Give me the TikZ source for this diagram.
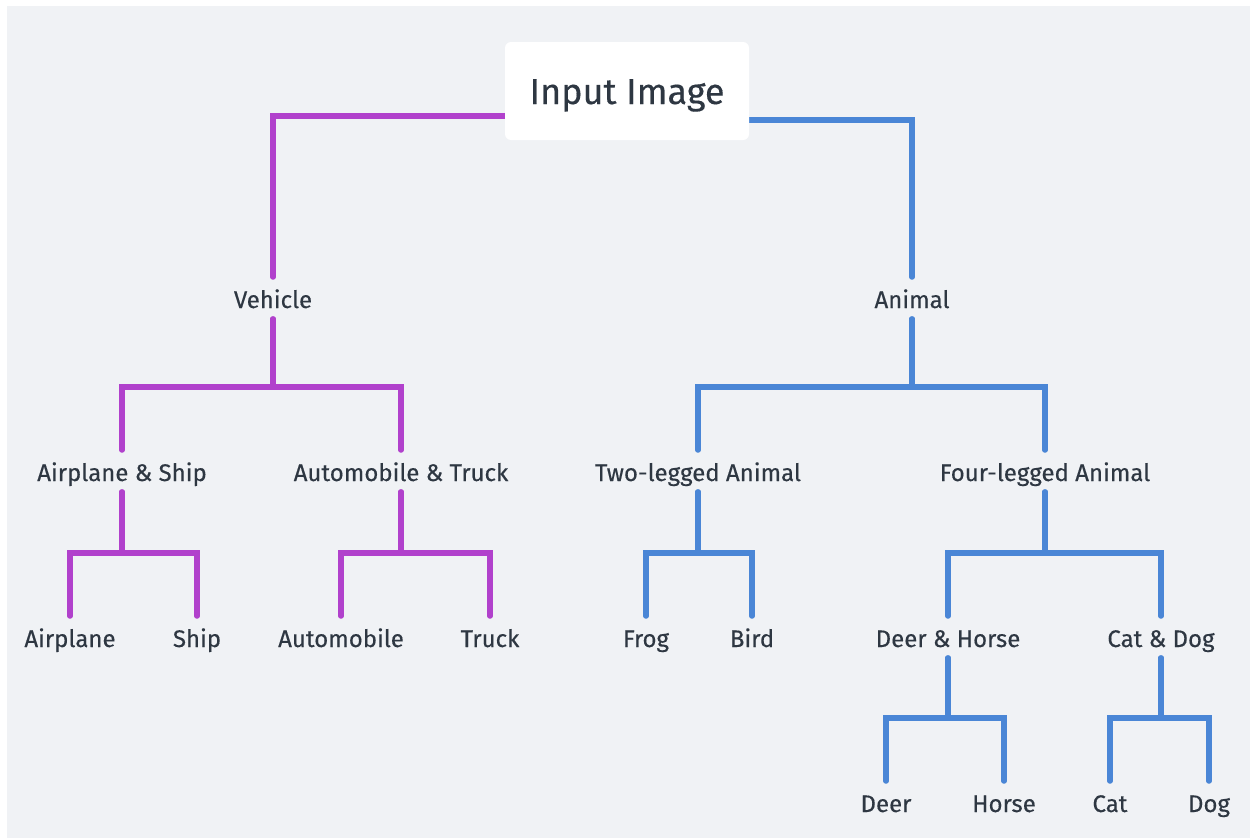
\documentclass[tikz,border=0pt]{standalone}
\usepackage{fontspec}
\setmainfont{Fira Sans}[FakeBold=0.35,UprightFont=*,BoldFont=*]
\definecolor{bgc}{HTML}{F0F2F5}
\definecolor{txt}{HTML}{2E3742}
\definecolor{purp}{HTML}{B141CC}
\definecolor{blu}{HTML}{4A86D6}
\pgfdeclarelayer{bg}
\pgfdeclarelayer{lines}
\pgfsetlayers{bg,lines,main}
\tikzset{
  lbl/.style={inner sep=0pt, outer sep=0pt, text height=31pt, text depth=11pt, text=txt, font=\fontsize{24}{28}\selectfont\bfseries},
  root/.style={fill=white, rounded corners=6pt, minimum width=244pt, minimum height=98pt, inner sep=0pt, text height=26pt, text depth=0pt, text=txt, font=\fontsize{36}{40}\selectfont\bfseries},
  vlink/.style={draw=purp, line width=5.5pt, line cap=round, line join=miter},
  alink/.style={draw=blu, line width=5.5pt, line cap=round, line join=miter}
}
\begin{document}
\begin{tikzpicture}[x=1pt,y=-1pt]
\begin{pgfonlayer}{bg}
\fill[white] (0,0) rectangle (1250,838);
\fill[bgc] (7,6) rectangle (1250,838);
\end{pgfonlayer}
\useasboundingbox (0,0) rectangle (1250,838);

\node[root] (in) at (627,91) {Input Image};

\node[lbl] (veh) at (273,298) {Vehicle};
\node[lbl] (ani) at (912,298) {Animal};

\node[lbl] (as) at (122,471) {Airplane \& Ship};
\node[lbl] (at) at (401,471) {Automobile \& Truck};
\node[lbl] (two) at (698,471) {Two-legged Animal};
\node[lbl] (four) at (1045,471) {Four-legged Animal};

\node[lbl] (air) at (70,637) {Airplane};
\node[lbl] (ship) at (197,637) {Ship};
\node[lbl] (auto) at (341,637) {Automobile};
\node[lbl] (truck) at (490,637) {Truck};
\node[lbl] (frog) at (646,637) {Frog};
\node[lbl] (bird) at (752,637) {Bird};
\node[lbl] (dh) at (948,637) {Deer \& Horse};
\node[lbl] (cd) at (1161,637) {Cat \& Dog};

\node[lbl] (deer) at (886,802) {Deer};
\node[lbl] (horse) at (1004,802) {Horse};
\node[lbl] (cat) at (1110,802) {Cat};
\node[lbl] (dog) at (1209,802) {Dog};

\begin{pgfonlayer}{lines}
\draw[vlink] ([yshift=-25pt]in.west) -| (veh.north);
\draw[alink] ([yshift=-29pt]in.east) -| (ani.north);

\draw[vlink] (veh.south) -- ++(0,68) -| (as.north);
\draw[vlink] (veh.south) -- ++(0,68) -| (at.north);
\draw[alink] (ani.south) -- ++(0,68) -| (two.north);
\draw[alink] (ani.south) -- ++(0,68) -| (four.north);

\draw[vlink] (as.south) -- ++(0,61) -| (air.north);
\draw[vlink] (as.south) -- ++(0,61) -| (ship.north);
\draw[vlink] (at.south) -- ++(0,61) -| (auto.north);
\draw[vlink] (at.south) -- ++(0,61) -| (truck.north);
\draw[alink] (two.south) -- ++(0,61) -| (frog.north);
\draw[alink] (two.south) -- ++(0,61) -| (bird.north);
\draw[alink] (four.south) -- ++(0,61) -| (dh.north);
\draw[alink] (four.south) -- ++(0,61) -| (cd.north);

\draw[alink] (dh.south) -- ++(0,60) -| (deer.north);
\draw[alink] (dh.south) -- ++(0,60) -| (horse.north);
\draw[alink] (cd.south) -- ++(0,60) -| (cat.north);
\draw[alink] (cd.south) -- ++(0,60) -| (dog.north);
\end{pgfonlayer}
\end{tikzpicture}
\end{document}
